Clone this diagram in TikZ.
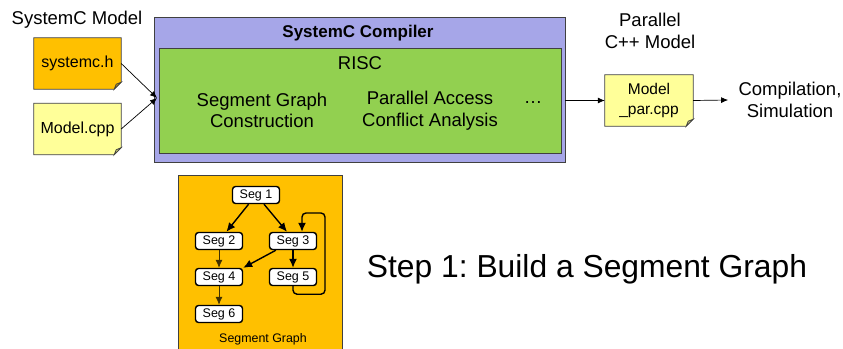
\documentclass[tikz,border=0pt]{standalone}
\usepackage{fontspec}
\setmainfont{Liberation Sans}
\usetikzlibrary{arrows.meta,backgrounds}
\frenchspacing

\definecolor{docorange}{RGB}{255,192,0}
\definecolor{docyellow}{RGB}{255,255,153}
\definecolor{complav}{RGB}{166,166,232}
\definecolor{riscgreen}{RGB}{146,208,80}
\definecolor{framegray}{RGB}{64,64,64}

\tikzset{
  docline/.style={draw=framegray, line width=0.8pt},
  docbox/.style={minimum width=87pt, minimum height=51pt, inner sep=0pt, align=center, font=\fontsize{16}{18}\selectfont},
  segbox/.style={draw, fill=white, rounded corners=3pt, line width=1.4pt, minimum width=47pt, minimum height=17pt, inner sep=0pt, font=\fontsize{12.5}{14}\selectfont},
  segarrow/.style={-{Latex[length=9pt,width=8pt]}, line width=1.4pt},
  thinarrow/.style={-{Latex[length=8pt,width=7pt]}, line width=0.8pt, draw=black!75!docorange},
  flowarrow/.style={-{Latex[length=7pt,width=6pt]}, line width=0.7pt},
  bigtext/.style={font=\fontsize{18.5}{21.5}\selectfont, align=center},
}

% folded document outline, drawn behind the text
\newcommand{\docframe}[2]{%
  \begin{pgfonlayer}{background}
  \draw[docline, fill=#2] (#1.north west) -- (#1.north east) -- ([yshift=7pt]#1.south east) -- ([xshift=-7pt]#1.south east) -- (#1.south west) -- cycle;
  \draw[docline, fill=#2!80!black] ([yshift=7pt]#1.south east) -- ([xshift=-7pt]#1.south east) -- ([xshift=-5pt,yshift=5pt]#1.south east) -- cycle;
  \end{pgfonlayer}}

\begin{document}
\begin{tikzpicture}[x=1pt,y=-1pt]
\useasboundingbox (0,0) rectangle (843,348);

% input model
\node[bigtext] (lblmodel) at (77,20) {SystemC Model};
\node[docbox] (sysh) at (77.5,63.5) {systemc.h};
\docframe{sysh}{docorange}
\node[docbox] (modelcpp) at (77.5,129) {Model.cpp};
\docframe{modelcpp}{docyellow}

% compiler
\node[draw=framegray, line width=0.8pt, fill=complav, minimum width=411pt, minimum height=145pt] (comp) at (359.5,89.5) {};
\node[draw=framegray, line width=0.8pt, fill=riscgreen, minimum width=402pt, minimum height=105pt] (risc) at (360,100.5) {};
\node[font=\fontsize{17}{20}\selectfont\bfseries] (lblcomp) at (358,33) {SystemC Compiler};
\node[bigtext] (lblrisc) at (360,63) {RISC};
\node[bigtext] (lblsgc) at (262,110.5) {Segment Graph\\Construction};
\node[bigtext] (lblpaca) at (430,110.5) {Parallel Access\\Conflict Analysis};
\node[bigtext] (lbldots) at (533,103) {…};

\coordinate (cin) at (157,98);
\draw[flowarrow] (sysh.east) -- (cin);
\draw[flowarrow] (modelcpp.east) -- (cin);

% output model
\node[bigtext] (lblpar) at (650,31) {Parallel\\C++ Model};
\node[docbox, minimum width=88pt, font=\fontsize{15.5}{20}\selectfont] (mpar) at (649,100.5) {Model\\\_par.cpp};
\docframe{mpar}{docyellow}
\node[bigtext] (lblsim) at (790,100) {Compilation,\\Simulation};

\draw[flowarrow] (comp.east |- mpar.west) -- (mpar.west);
\draw[flowarrow] (mpar.east) -- ([xshift=-7pt]lblsim.west);

% segment graph
\node[draw=framegray, line width=0.8pt, fill=docorange, minimum width=164pt, minimum height=180pt] (sgpanel) at (260,265) {};
\node[segbox] (seg1) at (256,195) {Seg 1};
\node[segbox] (seg2) at (219,241) {Seg 2};
\node[segbox] (seg3) at (293,241) {Seg 3};
\node[segbox] (seg4) at (219,277) {Seg 4};
\node[segbox] (seg5) at (293,277) {Seg 5};
\node[segbox] (seg6) at (219,314) {Seg 6};
\node[font=\fontsize{12.4}{14}\selectfont] (lblsg) at (263,339) {Segment Graph};

\draw[segarrow] (seg1) -- (seg2);
\draw[segarrow] ([xshift=8pt]seg1.south) -- ([xshift=-6pt]seg3.north);
\draw[segarrow] (seg3) -- (seg4.north east);
\draw[segarrow] (seg3) -- (seg5);
\draw[segarrow, rounded corners=4pt] (seg5.south) -- ++(0,8) -| (325,213) -| ([xshift=9pt]seg3.north);
\draw[thinarrow] (seg2) -- (seg4);
\draw[thinarrow] (seg4) -- (seg6);

\node[font=\fontsize{31.8}{38}\selectfont] (lblstep) at (587,269) {Step 1: Build a Segment Graph};
\end{tikzpicture}
\end{document}
